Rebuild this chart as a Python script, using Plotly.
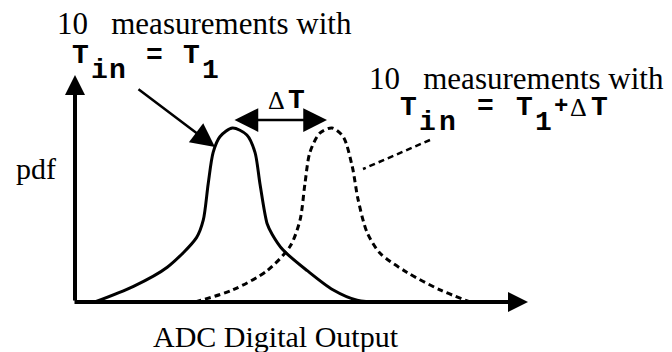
import plotly.graph_objects as go

# pdf curves (x in ADC codes, y in normalised pdf)
solid_x = [4.4, 13, 20.5, 27, 28.5, 29.6, 30.7, 32.2, 35, 38.2, 40, 41.1, 42.7, 43.8, 46.2, 51.6, 57.3, 62.7, 67.8]
solid_y = [0, 0.09, 0.2, 0.37, 0.47, 0.68, 0.86, 0.95, 1.0, 0.96, 0.86, 0.68, 0.45, 0.39, 0.3, 0.18, 0.07, 0.01, 0]
dashed_x = [26.7, 35.1, 42.7, 47.8, 50, 51.1, 52.2, 54.4, 57.1, 59.6, 61.6, 62.9, 64.9, 67.8, 73.8, 81.1, 87.8]
dashed_y = [0, 0.07, 0.18, 0.32, 0.47, 0.68, 0.86, 0.97, 1.0, 0.95, 0.78, 0.59, 0.4, 0.28, 0.17, 0.07, 0]

W, H = 672, 352
SERIF = "Liberation Serif"
MONO = "Liberation Mono"

# pixel helpers for the axis frame
X0, Y0 = 75, 302
SX, SY = 4.5, 174
def dx(p):
    return (p - X0) / SX
def dy(p):
    return (Y0 - p) / SY

fig = go.Figure()
fig.add_trace(go.Scatter(x=solid_x, y=solid_y, mode="lines",
                         line=dict(color="black", width=3, shape="spline", smoothing=0.8)))
fig.add_trace(go.Scatter(x=dashed_x, y=dashed_y, mode="lines",
                         line=dict(color="black", width=3, shape="spline", smoothing=0.8, dash="6px,4px")))

ann = []

def arrow(x1, y1, x0, y0, width, size, side="end"):
    ann.append(dict(x=dx(x1), y=dy(y1), ax=dx(x0), ay=dy(y0), xref="x", yref="y",
                    axref="x", ayref="y", text="", showarrow=True, arrowhead=2,
                    startarrowhead=2, arrowside=side, arrowwidth=width,
                    arrowsize=size, startarrowsize=size, arrowcolor="black"))

def label(text, x, y, size, family=SERIF, xanchor="left", bold=False):
    ann.append(dict(x=x / W, y=1 - y / H, xref="paper", yref="paper", text=text,
                    showarrow=False, xanchor=xanchor, yanchor="middle", borderpad=0,
                    font=dict(family=family, size=size, color="black",
                              weight="bold" if bold else "normal")))

def mono(chars, x, y, pitch, size=28):
    # wide courier-like glyphs: place each one on its own cell
    for i, ch in enumerate(chars):
        if ch != " ":
            label(ch, x + i * pitch, y, size, MONO, "center", bold=True)

# axes
arrow(75, 75, 75, 302, 4, 1.0)
arrow(528, 302, 73, 302, 4, 1.0)
# pointers
arrow(215, 147, 137, 88, 2.5, 1.9)
arrow(327, 120, 233, 120, 2.5, 1.9, side="end+start")
arrow(357, 172, 363, 169, 2.5, 1.9)

shapes = [dict(type="line", xref="x", yref="y", x0=dx(430), y0=dy(140), x1=dx(363), y1=dy(169),
               line=dict(color="black", width=2.5, dash="6px,4px"))]

nb = "\u00a0"
label("10" + nb * 3 + "measurements with", 56, 24, 31)
mono("T", 80.5, 56, 18.4)
mono("in", 99, 71, 18.4)
mono("=", 154.5, 55, 18.4)
mono("T", 191.5, 56, 18.4)
mono("1", 210, 71, 18.4)

label("10" + nb * 3 + "measurements with", 368, 79, 31)
mono("T", 408.5, 107, 19.3)
mono("in", 427.8, 122, 19.3)
mono("=", 485.7, 106, 19.3)
mono("T", 524.3, 107, 19.3)
mono("1", 543.6, 122, 19.3)
mono("+", 561, 106, 19.3, 24)
label("\u0394", 578, 107, 26, SERIF, "center")
mono("T", 599, 107, 19.3)

label("\u0394", 276, 101, 26, SERIF, "center")
mono("T", 296, 101, 19.3)
label("pdf", 15, 168, 30)
label("ADC Digital Output", 276, 336, 30, SERIF, "center")

fig.update_layout(
    width=W, height=H, margin=dict(l=0, r=0, t=0, b=0),
    paper_bgcolor="white", plot_bgcolor="white", showlegend=False,
    xaxis=dict(range=[dx(0), dx(W)], visible=False),
    yaxis=dict(range=[dy(H), dy(0)], visible=False),
    annotations=ann, shapes=shapes,
)

fig.write_html("out.html", config={"displayModeBar": False},
               post_script="document.body.style.margin='0';")
